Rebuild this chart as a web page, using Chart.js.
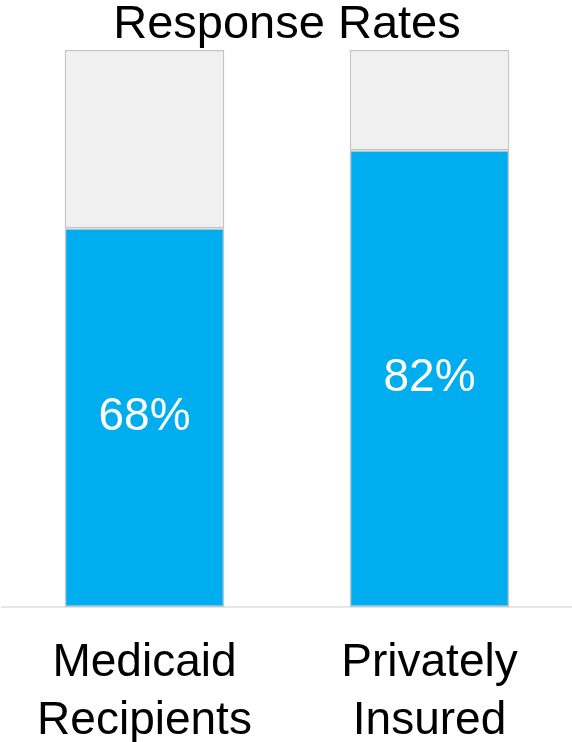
<!DOCTYPE html>
<html>
<head>
<meta charset="utf-8">
<script src="https://cdn.jsdelivr.net/npm/chart.js@4"></script>
<style>
  html, body { margin: 0; padding: 0; background: #ffffff; }
  #wrap { width: 572px; height: 742px; }
</style>
</head>
<body>
<div id="wrap"><canvas id="c"></canvas></div>
<script>
const categories = [["Medicaid", "Recipients"], ["Privately", "Insured"]];
const responded = [68, 82];
const remainder = [32, 18];
const valueLabels = ["68%", "82%"];

const FONT = "'Liberation Sans', Arial, sans-serif";

const valueLabelPlugin = {
  id: 'valueLabels',
  afterDatasetsDraw(chart) {
    const meta = chart.getDatasetMeta(0);
    const ctx = chart.ctx;
    ctx.save();
    ctx.fillStyle = '#ffffff';
    ctx.font = '46px ' + FONT;
    ctx.textAlign = 'center';
    ctx.textBaseline = 'middle';
    meta.data.forEach((bar, i) => {
      const p = bar.getProps(['x', 'y', 'base'], true);
      ctx.fillText(valueLabels[i], p.x, (p.y + p.base) / 2);
    });
    ctx.restore();
  }
};

new Chart(document.getElementById('c'), {
  type: 'bar',
  data: {
    labels: categories,
    datasets: [
      {
        label: 'Responded',
        data: responded,
        backgroundColor: '#00aeef',
        borderColor: '#c4c4c4',
        borderWidth: 1.5,
        borderSkipped: false,
        barPercentage: 0.56,
        categoryPercentage: 1.0
      },
      {
        label: 'Remainder',
        data: remainder,
        backgroundColor: '#f0f0f0',
        borderColor: '#c4c4c4',
        borderWidth: 1.5,
        borderSkipped: false,
        barPercentage: 0.56,
        categoryPercentage: 1.0
      }
    ]
  },
  options: {
    responsive: true,
    maintainAspectRatio: false,
    animation: false,
    layout: { padding: { left: 2, right: 0, top: 0, bottom: -27 } },
    plugins: {
      legend: { display: false },
      tooltip: { enabled: false },
      title: {
        display: true,
        text: 'Response Rates',
        color: '#000000',
        font: { family: FONT, size: 47, weight: 'normal', lineHeight: 1.0 },
        padding: { top: 2, bottom: 1 }
      }
    },
    scales: {
      x: {
        stacked: true,
        grid: { display: false },
        border: { display: true, color: '#e6e6e6', width: 2 },
        ticks: {
          color: '#000000',
          font: { family: FONT, size: 46, lineHeight: 1.26 },
          padding: 19,
          maxRotation: 0
        }
      },
      y: {
        stacked: true,
        display: false,
        min: 0,
        max: 100
      }
    }
  },
  plugins: [valueLabelPlugin]
});
</script>
</body>
</html>
